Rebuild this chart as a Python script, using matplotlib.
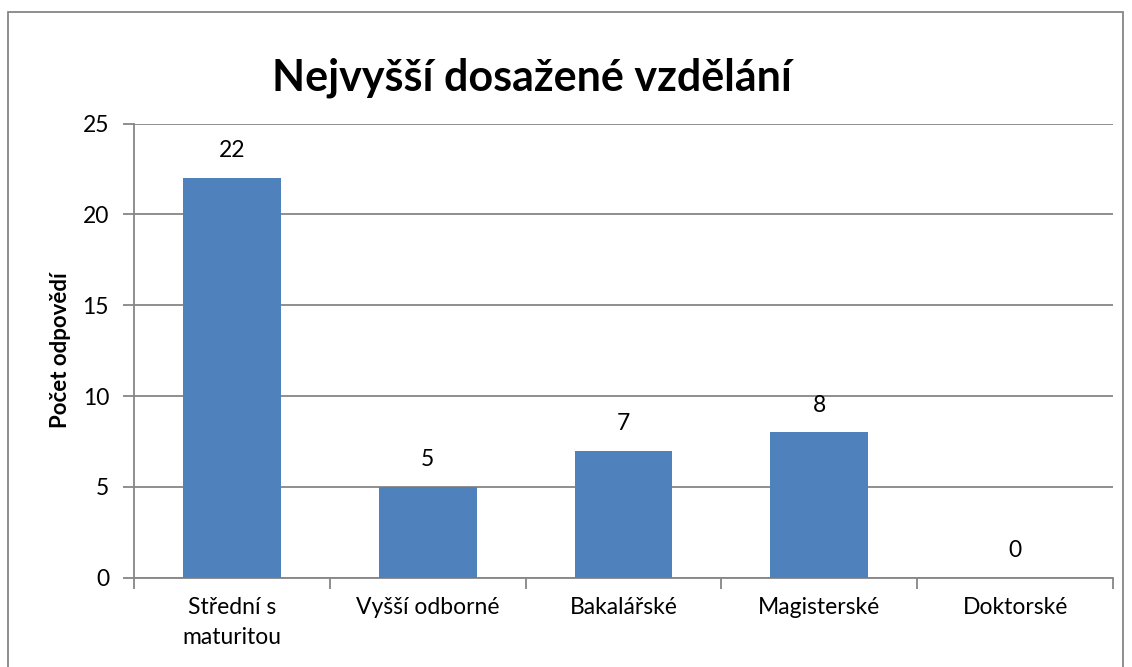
import matplotlib.pyplot as plt
from matplotlib.patches import Rectangle

categories = ['Střední s\nmaturitou', 'Vyšší odborné', 'Bakalářské', 'Magisterské', 'Doktorské']
counts = [22, 5, 7, 8, 0]
yticks = [0, 5, 10, 15, 20, 25]

plt.rcParams['font.family'] = ['Lato', 'DejaVu Sans']

fig = plt.figure(figsize=(11.32, 6.67), dpi=100)
ax = fig.add_axes([0.1184, 0.1339, 0.8648, 0.6809])

x = list(range(len(categories)))
ax.bar(x, counts, width=0.5, color='#4F81BD', zorder=3)

for xi, v in zip(x, counts):
    ax.annotate(str(v), (xi, v), xytext=(0, 12), textcoords='offset points',
                ha='center', va='bottom', fontsize=16.5)

ax.set_xlim(-0.5, len(categories) - 0.5)
ax.set_ylim(0, 25)
ax.set_yticks(yticks)
ax.set_xticks(x)
ax.set_xticklabels(categories, fontsize=16.5, linespacing=1.5)
ax.set_xticks([i - 0.5 for i in range(len(categories) + 1)], minor=True)
ax.tick_params(axis='x', which='major', length=0, pad=14)
ax.tick_params(axis='x', which='minor', length=8, color='#868686', width=1.3)
ax.tick_params(axis='y', length=8, color='#868686', width=1.3, labelsize=16.5, pad=10)

ax.yaxis.grid(True, color='#868686', linewidth=1.3, zorder=0)
for s in ['top', 'right']:
    ax.spines[s].set_visible(False)
for s in ['left', 'bottom']:
    ax.spines[s].set_color('#868686')
    ax.spines[s].set_linewidth(1.3)

ax.set_ylabel('Počet odpovědí', fontsize=16, fontweight='bold', labelpad=8)

fig.text(532 / 1132, 1 - 78 / 667, 'Nejvyšší dosažené vzdělání', fontsize=31,
         fontweight='bold', ha='center', va='center')

fig.patches.append(Rectangle((8 / 1132, -0.05), 1115 / 1132, 1 - 12 / 667 + 0.05,
                             transform=fig.transFigure, fill=False,
                             edgecolor='#868686', linewidth=1.3))

fig.savefig('out.png', dpi=100)
